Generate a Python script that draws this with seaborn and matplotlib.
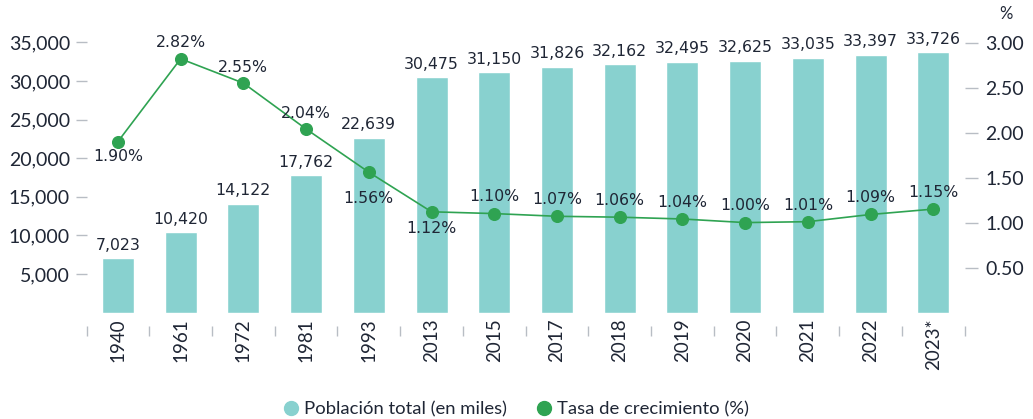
import matplotlib
matplotlib.use("Agg")
import matplotlib.pyplot as plt
import seaborn as sns
import pandas as pd
from matplotlib.lines import Line2D
from matplotlib.ticker import FixedLocator, FuncFormatter

# data
years = ["1940", "1961", "1972", "1981", "1993", "2013", "2015", "2017",
         "2018", "2019", "2020", "2021", "2022", "2023*"]
population = [7023, 10420, 14122, 17762, 22639, 30475, 31150, 31826,
              32162, 32495, 32625, 33035, 33397, 33726]
growth = [1.90, 2.82, 2.55, 2.04, 1.56, 1.12, 1.10, 1.07,
          1.06, 1.04, 1.00, 1.01, 1.09, 1.15]
left_ticks = [5000, 10000, 15000, 20000, 25000, 30000, 35000]
right_ticks = [0.5, 1.0, 1.5, 2.0, 2.5, 3.0]

df = pd.DataFrame({"year": years, "pop": population, "rate": growth})

bar_color = "#88d1cf"
line_color = "#2fa352"
text_color = "#1f2635"
tick_color = "#b8bdc4"

sns.set_theme(style="white")
plt.rcParams["font.family"] = ["Lato", "DejaVu Sans"]

fig = plt.figure(figsize=(10.33, 4.19), dpi=100)
ax = fig.add_axes([0.0838, 0.254, 0.850, 0.698])
ax2 = ax.twinx()

sns.barplot(data=df, x="year", y="pop", ax=ax, color=bar_color,
            width=0.51, saturation=1)
ax.bar_label(ax.containers[0], labels=[f"{v:,}" for v in population],
             padding=4, fontsize=11.3, color=text_color, family="DejaVu Sans")

sns.pointplot(data=df, x="year", y="rate", ax=ax2, color=line_color,
              markers="o", markersize=8.5, linewidth=1.2)

# growth labels: some above the point, some below (offsets in points)
offsets = [-11, 11.5, 11.5, 11.5, -19, -12, 12, 12, 12, 12, 12, 12, 12, 12]
for i, (v, dy) in enumerate(zip(growth, offsets)):
    ax2.annotate(f"{v:.2f}%", (i, v), xytext=(0, dy), textcoords="offset points",
                 ha="center", va="center", fontsize=11.3, color=text_color,
                 family="DejaVu Sans")

ax.set_xlim(-0.5, len(years) - 0.5)
ax.set_ylim(0, 37890)
ax2.set_ylim(0, 3.25)

ax.set_xlabel("")
ax.set_ylabel("")
ax2.set_xlabel("")
ax2.set_ylabel("%", rotation=0, ha="center", va="center", fontsize=12,
               color=text_color)
ax2.yaxis.set_label_coords(1.047, 1.02)

ax.yaxis.set_major_locator(FixedLocator(left_ticks))
ax.yaxis.set_major_formatter(FuncFormatter(lambda v, p: f"{int(v):,}"))
ax2.yaxis.set_major_locator(FixedLocator(right_ticks))
ax2.yaxis.set_major_formatter(FuncFormatter(lambda v, p: f"{v:.2f}"))

for a in (ax, ax2):
    for s in a.spines.values():
        s.set_visible(False)
    a.grid(False)

ax.spines["bottom"].set_position(("outward", 10))
ax.tick_params(axis="y", left=True, length=8, width=1, color=tick_color,
               pad=4, labelsize=14, labelcolor=text_color)
ax2.tick_params(axis="y", right=True, length=9, width=1, color=tick_color,
                pad=6, labelsize=14, labelcolor=text_color)
ax.tick_params(axis="x", which="major", bottom=True, length=0, pad=-6,
               labelsize=13.5, labelcolor=text_color, labelrotation=90)
ax.xaxis.set_minor_locator(FixedLocator([i - 0.5 for i in range(len(years) + 1)]))
ax.tick_params(axis="x", which="minor", bottom=True, length=7.5, width=1,
               color=tick_color)
ax2.tick_params(axis="x", which="both", bottom=False, top=False,
                labelbottom=False)

handles = [
    Line2D([], [], marker="o", linestyle="", markersize=10,
           markerfacecolor=bar_color, markeredgecolor=bar_color),
    Line2D([], [], marker="o", linestyle="", markersize=10,
           markerfacecolor=line_color, markeredgecolor=line_color),
]
fig.legend(handles, ["Población total (en miles)", "Tasa de crecimiento (%)"],
           loc="lower center", bbox_to_anchor=(0.5, -0.035), ncol=2,
           frameon=False, fontsize=13.3, labelcolor=text_color,
           handlelength=0.8, handletextpad=0.3, columnspacing=1.6)

fig.savefig("out.png", dpi=100)
